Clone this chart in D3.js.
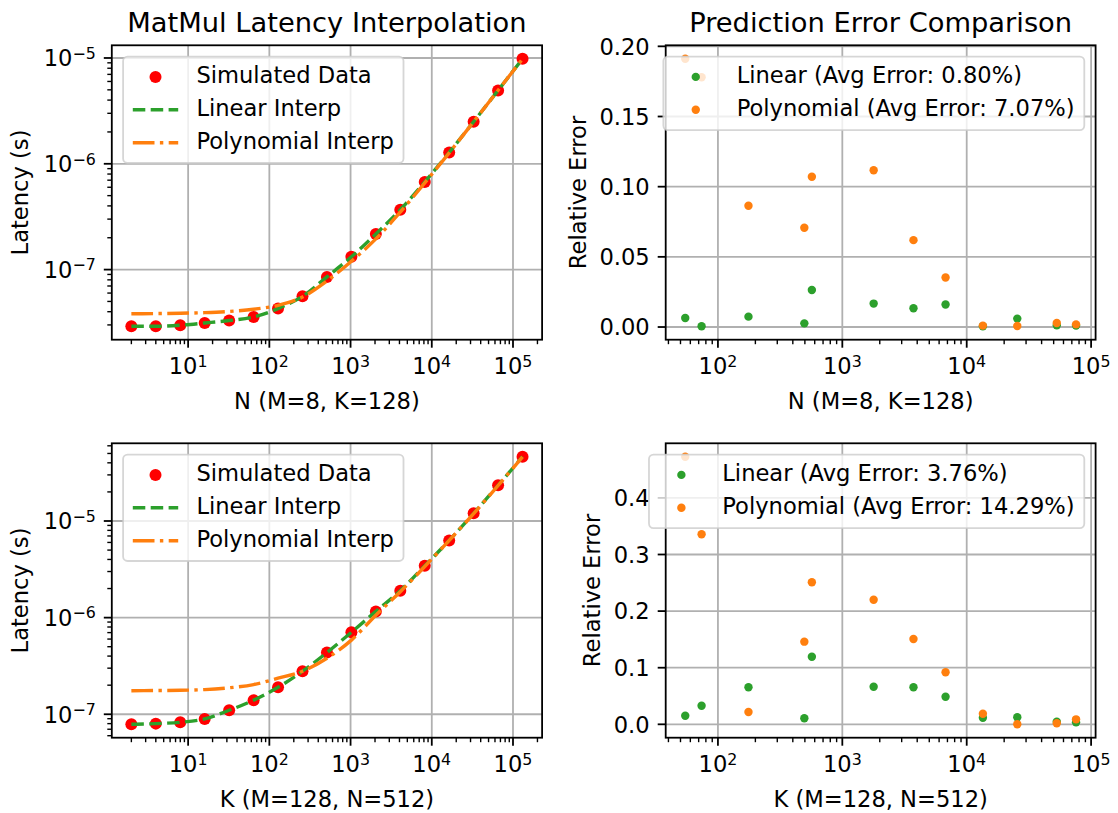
<!DOCTYPE html>
<html>
<head>
<meta charset="utf-8">
<title>MatMul Latency Interpolation</title>
<script src="https://cdnjs.cloudflare.com/ajax/libs/d3/7.8.5/d3.min.js"></script>
<style>
  body { margin: 0; background: #fff; }
  svg { font-family: "DejaVu Sans", sans-serif; }
</style>
</head>
<body>
<div id="chart"></div>
<script>
// ---------------- data ----------------
var sizes = [2, 4, 8, 16, 32, 64, 128, 256, 512, 1024, 2048, 4096, 8192, 16384, 32768, 65536, 131072];

// top row: vary N (M=8, K=128)
var latN  = [2.91e-8, 2.91e-8, 2.98e-8, 3.13e-8, 3.30e-8, 3.57e-8, 4.28e-8, 5.6e-8, 8.53e-8, 1.32e-7,
             2.17e-7, 3.68e-7, 6.74e-7, 1.28e-6, 2.50e-6, 4.94e-6, 9.85e-6];
var polyN = [3.82e-8, 3.84e-8, 3.87e-8, 3.92e-8, 4.02e-8, 4.22e-8, 4.6e-8, 5.5e-8, 7.8e-8, 1.2e-7,
             1.95e-7, 3.5e-7, 6.6e-7, 1.27e-6, 2.5e-6, 4.95e-6, 9.8e-6];

// bottom row: vary K (M=128, N=512)
var latK  = [7.87e-8, 8.0e-8, 8.26e-8, 8.95e-8, 1.1e-7, 1.40e-7, 1.9e-7, 2.79e-7, 4.35e-7, 7.05e-7,
             1.16e-6, 1.9e-6, 3.44e-6, 6.3e-6, 1.2e-5, 2.34e-5, 4.63e-5];
var polyK = [1.75e-7, 1.76e-7, 1.77e-7, 1.8e-7, 1.88e-7, 2.03e-7, 2.36e-7, 2.79e-7, 3.8e-7, 5.85e-7,
             1.06e-6, 1.85e-6, 3.38e-6, 6.3e-6, 1.19e-5, 2.33e-5, 4.6e-5];

// test points used for the error plots
var testSizes = [54.6, 73.9, 176, 495, 569, 1786, 3733, 6761, 13490, 25500, 52970, 75700];
var errLinN  = [0.0064, 0.0005, 0.0074, 0.0026, 0.0264, 0.0167, 0.0134, 0.0160, 0.0005, 0.0060, 0.0012, 0.0010];
var errPolyN = [0.1912, 0.1780, 0.0864, 0.0707, 0.1071, 0.1117, 0.0619, 0.0353, 0.0010, 0.0007, 0.0029, 0.0019];
var errLinK  = [0.0152, 0.0329, 0.0654, 0.0106, 0.1194, 0.0664, 0.0654, 0.0488, 0.0117, 0.0124, 0.0047, 0.0035];
var errPolyK = [0.4728, 0.3357, 0.0217, 0.1460, 0.2509, 0.2201, 0.1507, 0.0919, 0.0187, 0.0000, 0.0018, 0.0088];

var errTicksN = [0, 0.05, 0.10, 0.15, 0.20];
var errTicksK = [0, 0.1, 0.2, 0.3, 0.4];

var legendLatency = ["Simulated Data", "Linear Interp", "Polynomial Interp"];
var legendErrN = ["Linear (Avg Error: 0.80%)", "Polynomial (Avg Error: 7.07%)"];
var legendErrK = ["Linear (Avg Error: 3.76%)", "Polynomial (Avg Error: 14.29%)"];

// ---------------- setup ----------------
var width = 1118, height = 813;
var FS = 22.6, TITLE_FS = 27.3;
var GREEN = "#2ca02c", ORANGE = "#ff7f0e", RED = "#ff0000";
var LW = 3.4;
var DASH = "12.5,5.4", DASHDOT = "21.7,5.4,3.4,5.4";

var svg = d3.select("#chart").append("svg")
    .attr("width", width)
    .attr("height", height);
svg.append("rect").attr("width", width).attr("height", height).attr("fill", "#fff");

var clipId = 0;

//5% margins like matplotlib autoscale
function logPad(vals) {
    var lo = Math.log10(d3.min(vals)), hi = Math.log10(d3.max(vals)), m = (hi - lo) * 0.05;
    return [Math.pow(10, lo - m), Math.pow(10, hi + m)];
}
function linPad(vals) {
    var lo = d3.min(vals), hi = d3.max(vals), m = (hi - lo) * 0.05;
    return [lo - m, hi + m];
}

function logTickSet(domain) {
    var lo = Math.log10(domain[0]), hi = Math.log10(domain[1]);
    var major = [], minor = [];
    for (var e = Math.floor(lo); e <= Math.ceil(hi); e++) {
        var p = Math.pow(10, e);
        if (e >= lo && e <= hi) major.push(e);
        for (var k = 2; k <= 9; k++) {
            var v = k * p;
            if (v >= domain[0] && v <= domain[1]) minor.push(v);
        }
    }
    return {major: major, minor: minor};
}

function powLabel(t, e) {
    t.append("tspan").text("10");
    t.append("tspan").attr("dy", -7.5).attr("font-size", FS * 0.7)
        .text(e < 0 ? "\u2212" + (-e) : String(e));
}

function makeAxes(box) {
    var g = svg.append("g");
    var id = "clip" + (clipId++);
    g.append("clipPath").attr("id", id).append("rect")
        .attr("x", box.x0).attr("y", box.y0)
        .attr("width", box.x1 - box.x0).attr("height", box.y1 - box.y0);
    return {g: g, grid: g.append("g"), data: g.append("g").attr("clip-path", "url(#" + id + ")"),
            axes: g.append("g"), leg: g.append("g")};
}

function logXAxis(ax, x, box) {
    var t = logTickSet(x.domain());
    t.major.forEach(function(e) {
        var px = x(Math.pow(10, e));
        ax.grid.append("line").attr("x1", px).attr("x2", px).attr("y1", box.y0).attr("y2", box.y1)
            .attr("stroke", "#b0b0b0").attr("stroke-width", 1.8);
        ax.axes.append("line").attr("x1", px).attr("x2", px).attr("y1", box.y1).attr("y2", box.y1 + 8)
            .attr("stroke", "#000").attr("stroke-width", 1.8);
        var lab = ax.axes.append("text").attr("x", px).attr("y", box.y1 + 34.3)
            .attr("text-anchor", "middle").attr("font-size", FS);
        powLabel(lab, e);
    });
    t.minor.forEach(function(v) {
        var px = x(v);
        ax.axes.append("line").attr("x1", px).attr("x2", px).attr("y1", box.y1).attr("y2", box.y1 + 4.5)
            .attr("stroke", "#000").attr("stroke-width", 1.4);
    });
}

function logYAxis(ax, y, box) {
    var t = logTickSet(y.domain());
    t.major.forEach(function(e) {
        var py = y(Math.pow(10, e));
        ax.grid.append("line").attr("x1", box.x0).attr("x2", box.x1).attr("y1", py).attr("y2", py)
            .attr("stroke", "#b0b0b0").attr("stroke-width", 1.8);
        ax.axes.append("line").attr("x1", box.x0 - 8).attr("x2", box.x0).attr("y1", py).attr("y2", py)
            .attr("stroke", "#000").attr("stroke-width", 1.8);
        var lab = ax.axes.append("text").attr("x", box.x0 - 16).attr("y", py + 8.3)
            .attr("text-anchor", "end").attr("font-size", FS);
        powLabel(lab, e);
    });
    t.minor.forEach(function(v) {
        var py = y(v);
        ax.axes.append("line").attr("x1", box.x0 - 4.5).attr("x2", box.x0).attr("y1", py).attr("y2", py)
            .attr("stroke", "#000").attr("stroke-width", 1.4);
    });
}

function linYAxis(ax, y, box, ticks, fmt) {
    ticks.forEach(function(v) {
        var py = y(v);
        ax.grid.append("line").attr("x1", box.x0).attr("x2", box.x1).attr("y1", py).attr("y2", py)
            .attr("stroke", "#b0b0b0").attr("stroke-width", 1.8);
        ax.axes.append("line").attr("x1", box.x0 - 8).attr("x2", box.x0).attr("y1", py).attr("y2", py)
            .attr("stroke", "#000").attr("stroke-width", 1.8);
        ax.axes.append("text").attr("x", box.x0 - 16).attr("y", py + 8.3)
            .attr("text-anchor", "end").attr("font-size", FS).text(fmt(v));
    });
}

function frameAndLabels(ax, box, title, xLabel, yLabel, yLabelX) {
    ax.axes.append("rect").attr("x", box.x0).attr("y", box.y0)
        .attr("width", box.x1 - box.x0).attr("height", box.y1 - box.y0)
        .attr("fill", "none").attr("stroke", "#000").attr("stroke-width", 1.8);
    var cx = (box.x0 + box.x1) / 2, cy = (box.y0 + box.y1) / 2;
    if (title) {
        ax.axes.append("text").attr("x", cx).attr("y", box.y0 - 13.6)
            .attr("text-anchor", "middle").attr("font-size", TITLE_FS).text(title);
    }
    ax.axes.append("text").attr("x", cx).attr("y", box.y1 + 68.8)
        .attr("text-anchor", "middle").attr("font-size", FS).text(xLabel);
    ax.axes.append("text").attr("transform", "translate(" + yLabelX + "," + cy + ") rotate(-90)")
        .attr("text-anchor", "middle").attr("font-size", FS).text(yLabel);
}

// legend: items {kind, color, dash, r, label}; side "left" | "right"
function legend(ax, box, items, side) {
    var g = ax.leg.append("g");
    var rect = g.append("rect");
    var pad = 9.7, handle = 45.4, gap = 18.2, top = box.y0 + 11.3;
    var rowTop = 20.3, rowStep = 32.9;
    var texts = items.map(function(d, i) {
        return g.append("text").attr("font-size", FS).attr("y", top + rowTop + i * rowStep + 6.5).text(d.label);
    });
    var tw = d3.max(texts, function(t) { return t.node().getComputedTextLength(); });
    var w = pad + handle + gap + tw + pad;
    var h = rowTop * 2 + rowStep * (items.length - 1);
    var left = side === "left" ? box.x0 + 11.3 : box.x1 - 11.3 - w;
    rect.attr("x", left).attr("y", top).attr("width", w).attr("height", h)
        .attr("rx", 4.5).attr("ry", 4.5)
        .attr("fill", "rgba(255,255,255,0.8)")
        .attr("stroke", "rgba(204,204,204,0.8)").attr("stroke-width", 1.8);
    texts.forEach(function(t) { t.attr("x", left + pad + handle + gap); });
    items.forEach(function(d, i) {
        var cy = top + rowTop + i * rowStep, hx = left + pad;
        if (d.kind === "dot") {
            g.append("circle").attr("cx", hx + handle / 2).attr("cy", cy).attr("r", d.r).attr("fill", d.color);
        } else {
            g.append("line").attr("x1", hx).attr("x2", hx + handle).attr("y1", cy).attr("y2", cy)
                .attr("stroke", d.color).attr("stroke-width", LW).attr("stroke-dasharray", d.dash);
        }
    });
}

////////////////////////////////////////////////////////////
////////////////// Latency panels (left) ///////////////////
////////////////////////////////////////////////////////////
function latencyPanel(box, lat, poly, title, xLabel) {
    var ax = makeAxes(box);
    var x = d3.scaleLog().domain(logPad(sizes)).range([box.x0, box.x1]);
    var y = d3.scaleLog().domain(logPad(lat.concat(poly))).range([box.y1, box.y0]);

    logXAxis(ax, x, box);
    logYAxis(ax, y, box);

    ax.data.selectAll(".pt").data(sizes).enter().append("circle")
        .attr("cx", function(d) { return x(d); })
        .attr("cy", function(d, i) { return y(lat[i]); })
        .attr("r", 6).attr("fill", RED);

    var lineLin = d3.line().x(function(d) { return x(d); }).y(function(d, i) { return y(lat[i]); })
        .curve(d3.curveMonotoneX);
    var linePoly = d3.line().x(function(d) { return x(d); }).y(function(d, i) { return y(poly[i]); })
        .curve(d3.curveMonotoneX);

    ax.data.append("path").attr("d", lineLin(sizes)).attr("fill", "none")
        .attr("stroke", GREEN).attr("stroke-width", LW).attr("stroke-dasharray", DASH);
    ax.data.append("path").attr("d", linePoly(sizes)).attr("fill", "none")
        .attr("stroke", ORANGE).attr("stroke-width", LW).attr("stroke-dasharray", DASHDOT);

    frameAndLabels(ax, box, title, xLabel, "Latency (s)", 28);
    legend(ax, box, [
        {kind: "dot", color: RED, r: 6, label: legendLatency[0]},
        {kind: "line", color: GREEN, dash: DASH, label: legendLatency[1]},
        {kind: "line", color: ORANGE, dash: DASHDOT, label: legendLatency[2]}
    ], "left");
}

////////////////////////////////////////////////////////////
/////////////////// Error panels (right) ///////////////////
////////////////////////////////////////////////////////////
function errorPanel(box, errLin, errPoly, ticks, fmt, title, xLabel, labels, yLabelX) {
    var ax = makeAxes(box);
    var x = d3.scaleLog().domain(logPad(testSizes)).range([box.x0, box.x1]);
    var y = d3.scaleLinear().domain(linPad(errLin.concat(errPoly))).range([box.y1, box.y0]);

    logXAxis(ax, x, box);
    linYAxis(ax, y, box, ticks, fmt);

    ax.data.selectAll(".lin").data(testSizes).enter().append("circle")
        .attr("cx", function(d) { return x(d); })
        .attr("cy", function(d, i) { return y(errLin[i]); })
        .attr("r", 4.2).attr("fill", GREEN);
    ax.data.selectAll(".poly").data(testSizes).enter().append("circle")
        .attr("cx", function(d) { return x(d); })
        .attr("cy", function(d, i) { return y(errPoly[i]); })
        .attr("r", 4.2).attr("fill", ORANGE);

    frameAndLabels(ax, box, title, xLabel, "Relative Error", yLabelX);
    legend(ax, box, [
        {kind: "dot", color: GREEN, r: 4.2, label: labels[0]},
        {kind: "dot", color: ORANGE, r: 4.2, label: labels[1]}
    ], "right");
}

var boxTL = {x0: 111.8, x1: 542.1, y0: 45.3, y1: 339.7};
var boxTR = {x0: 665.7, x1: 1095.6, y0: 45.3, y1: 339.7};
var boxBL = {x0: 111.8, x1: 542.1, y0: 443.3, y1: 737.7};
var boxBR = {x0: 665.7, x1: 1095.6, y0: 443.3, y1: 737.7};

latencyPanel(boxTL, latN, polyN, "MatMul Latency Interpolation", "N (M=8, K=128)");
latencyPanel(boxBL, latK, polyK, null, "K (M=128, N=512)");
errorPanel(boxTR, errLinN, errPolyN, errTicksN, d3.format(".2f"),
    "Prediction Error Comparison", "N (M=8, K=128)", legendErrN, 585.5);
errorPanel(boxBR, errLinK, errPolyK, errTicksK, d3.format(".1f"),
    null, "K (M=128, N=512)", legendErrK, 600);
</script>
</body>
</html>
